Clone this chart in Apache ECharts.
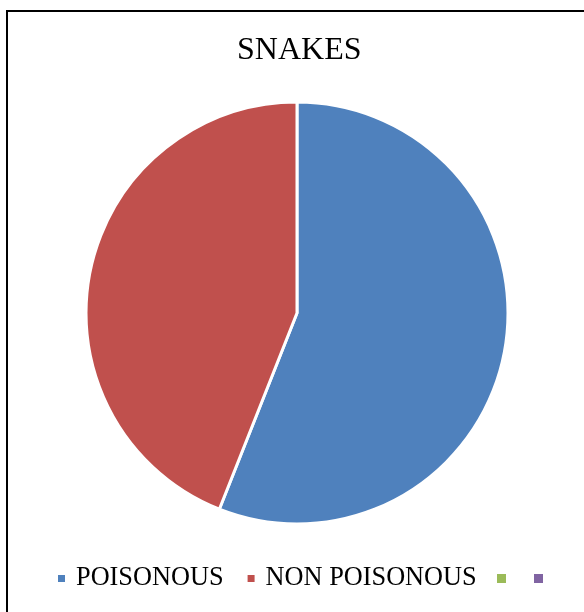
<!DOCTYPE html>
<html>
<head>
<meta charset="utf-8">
<script src="https://cdn.jsdelivr.net/npm/echarts@6/dist/echarts.min.js"></script>
<style>html,body{margin:0;padding:0;background:#fff}#c{width:584px;height:612px}</style>
</head>
<body>
<div id="c"></div>
<script>
var categories = ['POISONOUS', 'NON POISONOUS', '\u200b', '\u200b\u200b'];
var values = [56, 44, 0, 0];
var colors = ['#4F81BD', '#C0504D', '#9BBB59', '#8064A2'];

var chart = echarts.init(document.getElementById('c'));
var data = categories.map(function (n, i) {
  return {
    name: n, value: values[i],
    itemStyle: { color: colors[i], borderColor: '#fff', borderWidth: values[i] > 0 ? 3 : 0 }
  };
});
var legendText = { fontFamily: 'Liberation Serif', fontSize: 26.3, lineHeight: 27, color: '#000', padding: [0, 0, 0, 5] };
chart.setOption({
  animation: false,
  title: {
    text: 'SNAKES', left: 237, top: 35, padding: 0,
    textStyle: { fontFamily: 'Liberation Serif', fontSize: 32, fontWeight: 'normal', color: '#000' }
  },
  legend: [{
    data: categories.slice(0, 2), left: 56, top: 565, padding: 0,
    icon: 'rect', itemWidth: 9, itemHeight: 9, itemGap: 22,
    textStyle: legendText, selectedMode: false
  }, {
    data: categories.slice(2), left: 497, top: 565, padding: 0,
    icon: 'rect', itemWidth: 9, itemHeight: 9, itemGap: 23,
    textStyle: { fontFamily: 'Liberation Serif', fontSize: 26.3, lineHeight: 27, color: '#000' },
    selectedMode: false
  }],
  graphic: [{
    type: 'rect', shape: { x: 7, y: 11, width: 700, height: 700 },
    style: { fill: 'none', stroke: '#000', lineWidth: 2 }, silent: true
  }],
  series: [{
    type: 'pie', center: [297, 313], radius: 211, startAngle: 90, clockwise: true,
    label: { show: false }, labelLine: { show: false }, silent: true,
    data: data
  }]
});
</script>
</body>
</html>
